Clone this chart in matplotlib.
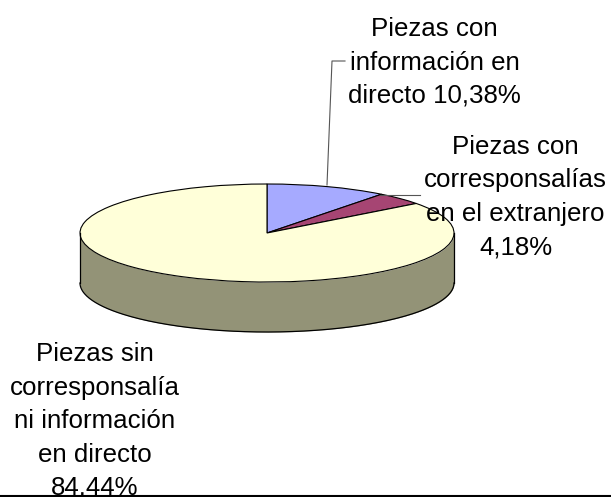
import numpy as np
import matplotlib
matplotlib.use("Agg")
import matplotlib.pyplot as plt

labels = ["Piezas con\ninformación en\ndirecto 10,38%",
          "Piezas con\ncorresponsalías\nen el extranjero\n4,18%",
          "Piezas sin\ncorresponsalía\nni información\nen directo\n84,44%"]
values = [10.38, 4.18, 84.44]
colors = ["#A6AAFF", "#A64573", "#FFFFD9"]
WALL = "#939377"

W, H = 611, 497
plt.rcParams['font.family'] = ['Liberation Sans', 'DejaVu Sans']
fig = plt.figure(figsize=(W / 100, H / 100), dpi=100)

# full-figure axes in pixel units for text and leader lines
bg = fig.add_axes([0, 0, 1, 1], zorder=3)
bg.set_xlim(0, W); bg.set_ylim(H, 0); bg.axis("off"); bg.patch.set_alpha(0)

# pie axes: the box is the bounding box of the top ellipse
cx, cy, rx, ry, depth = 267, 233, 187, 49, 50
ax = fig.add_axes([(cx - rx) / W, 1 - (cy + ry) / H, 2 * rx / W, 2 * ry / H], zorder=1)
t = np.linspace(np.pi, 2 * np.pi, 200)
ax.fill_between(np.cos(t), np.sin(t), np.sin(t) - depth / ry, color=WALL, lw=0, clip_on=False)
ax.plot(np.cos(t), np.sin(t) - depth / ry, color="black", lw=0.9, clip_on=False)
ax.plot([-1, -1], [0, -depth / ry], color="black", lw=0.9, clip_on=False)
ax.plot([1, 1], [0, -depth / ry], color="black", lw=0.9, clip_on=False)
ax.pie(values, colors=colors, startangle=90, counterclock=False, radius=1,
       wedgeprops=dict(edgecolor="black", linewidth=0.8, clip_on=False))
ax.set_aspect("auto")
ax.set_xlim(-1, 1); ax.set_ylim(-1, 1)
ax.axis("off")

fs = 18.6
ls = 1.5
bg.text(434.5, 62.5, labels[0], ha="center", va="center", fontsize=fs, linespacing=ls)
bg.text(515.5, 197, labels[1], ha="center", va="center", fontsize=fs, linespacing=ls)
bg.text(95, 421, labels[2], ha="center", va="center", fontsize=fs, linespacing=ls, clip_on=True)

# leader lines
bg.plot([345, 332, 327], [61, 61, 185], color="#555555", lw=0.8)
bg.plot([380, 420], [195, 195], color="#555555", lw=0.8)

# bottom frame line
bg.plot([0, 611], [496, 496], color="black", lw=1.5, zorder=5, clip_on=False)

fig.savefig("out.png", dpi=100)
